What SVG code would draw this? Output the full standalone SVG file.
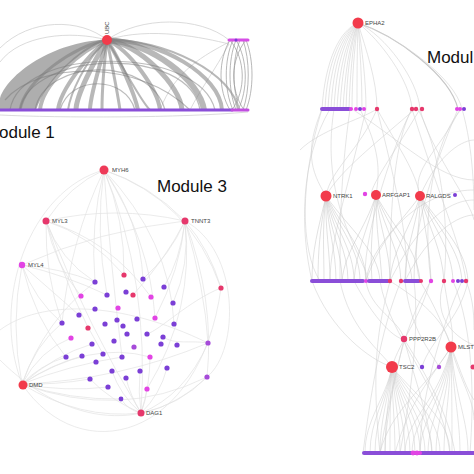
<svg xmlns="http://www.w3.org/2000/svg" width="474" height="474" viewBox="0 0 474 474">
<style>
.thick{fill:none;stroke:#7e7e7e;stroke-opacity:0.55;stroke-linecap:butt}
.lt{fill:none;stroke:#d2d2d2;stroke-width:0.8}
.m3{fill:none;stroke:#e3e3e3;stroke-width:0.7}
.m2{fill:none;stroke:#d4d4d4;stroke-width:0.6}
.m2d{fill:none;stroke:#c4c4c4;stroke-width:0.5}
.big{font-family:"Liberation Sans",Arial,sans-serif;font-size:17px;fill:#111}
.lbl{font-family:"Liberation Sans",Arial,sans-serif;font-size:6px;fill:#444}
.red{fill:#f23b4b}
.pr{fill:#e6386c}
.mg{fill:#e244e4}
.pu{fill:#7b3fd6}
.mx{fill:#a64bd9}
.bar{stroke:#8a4ed8;stroke-linecap:round;fill:none}
</style>
<rect width="474" height="474" fill="#ffffff"/>

<g id="connectors">
  <!-- Module 1 -->
  <path d="M107,40 C60,40 10,70 0,98 L0,110 L36,110 C46,80 80,50 107,40 Z" fill="#9a9a9a" fill-opacity="0.8"/>
  <path class="lt" d="M107,40 C80,18 30,18 0,48"/>
  <path class="lt" d="M107,40 C70,30 20,35 0,62"/>
  <path class="lt" d="M107,40 C140,16 200,16 229,40"/>
  <path class="lt" d="M107,40 C150,26 205,38 229,44"/>
  <path class="lt" d="M229,42 C205,55 175,70 160,110"/>
  <path class="lt" d="M229,44 C215,70 200,90 190,110"/>
  <path class="lt" d="M0,115 C60,118 180,118 248,112"/>
  <g class="thick">
    <path stroke-width="3" d="M107,40 C75,45 25,80 20,110"/>
    <path stroke-width="4" d="M107,40 C80,50 42,85 40,110"/>
    <path stroke-width="4" d="M107,40 C88,55 60,90 58,110"/>
    <path stroke-width="5" d="M107,40 C95,60 76,95 76,110"/>
    <path stroke-width="4" d="M107,40 C100,65 90,95 90,110"/>
    <path stroke-width="3" d="M107,40 C104,65 102,95 102,110"/>
    <path stroke-width="3" d="M107,40 C112,65 118,95 120,110"/>
    <path stroke-width="4" d="M107,40 C120,60 135,95 138,110"/>
    <path stroke-width="4" d="M107,40 C130,50 158,90 160,110"/>
    <path stroke-width="5" d="M107,40 C140,45 180,85 182,110"/>
    <path stroke-width="6" d="M107,40 C150,42 200,80 204,110"/>
    <path stroke-width="4" d="M107,40 C160,40 220,75 222,110"/>
    <path stroke-width="2" d="M107,40 C165,38 235,75 238,110"/>
    <path stroke-width="2" d="M107,40 C85,60 70,95 68,110"/>
    <path stroke-width="2" d="M107,40 C125,70 140,100 150,110"/>
  </g>
  <g fill="none" stroke="#7a7a7a" stroke-opacity="0.5" stroke-width="1.2">
    <path d="M20,110 C30,50 190,45 200,110"/>
    <path d="M35,110 C45,58 150,55 165,110"/>
    <path d="M10,110 C20,45 200,45 215,110"/>
    <path d="M60,110 C70,75 125,75 135,110"/>
    <path d="M5,100 C40,60 140,60 190,110"/>
  </g>
  <g fill="none" stroke="#9a9a9a" stroke-opacity="0.7" stroke-width="1">
    <path d="M230,40 C218,60 218,90 230,110"/>
    <path d="M233,40 C224,60 224,90 233,110"/>
    <path d="M236,40 C228,60 228,90 236,110"/>
    <path d="M246,40 C254,60 254,90 246,110"/>
    <path d="M243,40 C250,60 250,90 243,110"/>
    <path d="M240,40 C232,60 232,90 240,110"/>
    <path d="M230,40 C246,60 246,90 232,110"/>
    <path d="M246,40 C230,60 230,90 244,110"/>
    <path d="M236,40 C248,60 248,90 238,110"/>
  </g>

  <!-- Module 3 -->
  <g class="m3">
    <path d="M104,170 Q90,225 95,282"/><path d="M104,170 Q125,220 124,275"/>
    <path d="M104,170 Q140,220 143,279"/><path d="M104,170 Q95,230 107,295"/>
    <path d="M104,170 Q70,240 62,323"/><path d="M104,170 Q150,240 155,318"/>
    <path d="M104,170 Q170,240 174,324"/><path d="M104,170 Q150,280 141,413"/>
    <path d="M104,170 Q70,185 46,221"/><path d="M104,170 Q150,185 185,221"/>
    <path d="M104,170 Q190,200 221,288"/><path d="M104,170 Q110,260 122,357"/>
    <path d="M46,221 Q60,260 95,282"/><path d="M46,221 Q55,265 81,296"/>
    <path d="M46,221 Q90,235 124,275"/><path d="M46,221 Q45,275 62,323"/>
    <path d="M46,221 Q70,300 103,354"/><path d="M46,221 Q110,240 151,297"/>
    <path d="M46,221 Q115,205 185,221"/><path d="M46,221 Q90,330 141,413"/>
    <path d="M185,221 Q170,255 143,279"/><path d="M185,221 Q180,260 164,287"/>
    <path d="M185,221 Q190,265 173,303"/><path d="M185,221 Q165,260 133,295"/>
    <path d="M185,221 Q210,250 221,288"/><path d="M185,221 Q205,290 208,343"/>
    <path d="M185,221 Q180,270 155,318"/><path d="M185,221 Q100,230 22,265"/>
    <path d="M185,221 Q195,310 147,389"/><path d="M185,221 Q215,300 207,377"/>
    <path d="M22,265 Q35,300 62,323"/><path d="M22,265 Q45,285 79,315"/>
    <path d="M22,265 Q60,268 95,282"/><path d="M22,265 Q35,320 66,357"/>
    <path d="M22,265 Q10,325 22,384"/><path d="M22,265 Q65,275 107,295"/>
    <path d="M22,384 Q35,345 62,323"/><path d="M22,384 Q40,365 66,357"/>
    <path d="M22,384 Q50,365 82,356"/><path d="M22,384 Q55,355 92,344"/>
    <path d="M22,384 Q55,385 90,379"/><path d="M22,384 Q65,392 108,387"/>
    <path d="M22,384 Q70,400 121,399"/><path d="M22,384 Q80,420 141,413"/>
    <path d="M22,384 Q70,365 122,357"/><path d="M22,384 Q40,350 71,338"/>
    <path d="M22,384 Q120,420 207,377"/><path d="M22,384 Q45,320 95,282"/>
    <path d="M22,384 Q120,380 208,343"/><path d="M22,384 Q90,340 150,357"/>
    <path d="M141,413 Q128,410 121,399"/><path d="M141,413 Q146,400 147,389"/>
    <path d="M141,413 Q130,395 126,378"/><path d="M141,413 Q138,392 140,371"/>
    <path d="M141,413 Q160,395 167,368"/><path d="M141,413 Q180,405 207,377"/>
    <path d="M141,413 Q185,395 208,343"/><path d="M141,413 Q120,395 112,371"/>
    <path d="M141,413 Q150,385 150,357"/><path d="M141,413 Q110,400 90,379"/>
    <path d="M22,384 C-10,300 30,190 104,170"/>
    <path d="M22,384 C80,470 200,440 221,288"/>
    <path d="M185,221 C240,250 240,350 207,377"/>
    <path d="M0,330 C40,300 120,300 208,343"/>
    <path d="M0,360 C60,420 140,440 207,377"/>
    <path d="M221,288 C190,300 160,330 147,334"/>
    <path d="M208,343 C190,340 175,345 163,337"/>
  </g>

  <!-- Module 2 (right) -->
  <g class="m2">
    <path d="M358,23 C340,30 325,60 322,109"/><path d="M358,23 C341,32 327,62 325,109"/>
    <path d="M358,23 C342,34 330,64 328,109"/><path d="M358,23 C343,36 333,66 331,109"/>
    <path d="M358,23 C344,38 336,68 334,109"/><path d="M358,23 C346,40 339,70 337,109"/>
    <path d="M358,23 C347,42 342,72 340,109"/><path d="M358,23 C349,44 345,74 343,109"/>
    <path d="M358,23 C350,46 347,76 346,109"/><path d="M358,23 C352,48 350,78 349,109"/>
    <path d="M358,23 C354,50 352,80 352,109"/><path d="M358,23 C357,50 357,80 357,109"/>
    <path d="M358,23 C360,50 362,80 362,109"/><path d="M358,23 C362,50 366,80 366,109"/>
    <path d="M358,23 C366,50 377,80 377,109"/><path d="M358,23 C380,40 410,80 412,109"/>
    <path d="M358,23 C385,35 418,80 420,109"/>
    <path stroke="#c6c6c6" stroke-width="1.1" d="M358,23 C395,35 450,75 458,109"/>
    <path d="M358,23 C400,38 455,78 462,109"/>
    <path d="M322,109 C305,150 310,170 326,196"/><path d="M330,109 C300,160 300,230 312,281"/>
    <path d="M350,109 C340,180 340,230 340,281"/><path d="M360,109 C380,150 380,170 376,195"/>
    <path d="M377,109 C360,150 330,170 326,196"/><path d="M377,109 C400,150 415,170 420,196"/>
    <path d="M412,109 C390,150 360,250 366,281"/><path d="M415,109 C380,140 340,170 326,196"/>
    <path d="M418,109 C440,150 450,220 444,281"/><path d="M420,109 C430,150 470,200 474,220"/>
    <path d="M460,109 C440,150 410,170 420,196"/><path d="M462,109 C474,150 474,200 474,210"/>
    <path d="M412,109 C395,140 390,200 390,281"/><path d="M420,109 C390,160 360,200 376,195"/>
    <path d="M322,109 C300,180 300,250 320,281"/><path d="M334,109 C320,200 360,250 369,281"/>
    <path d="M366,109 C350,180 330,240 330,281"/><path d="M377,109 C400,200 410,250 405,281"/>
    <path d="M412,109 C440,200 460,240 466,281"/><path d="M458,109 C420,200 410,250 420,281"/>
    <path d="M462,109 C440,130 420,200 431,281"/><path d="M352,109 C400,140 440,180 474,180"/>
    <path d="M300,150 C320,130 360,120 377,109"/><path d="M420,196 C440,150 465,140 474,140"/>
    <path d="M390,281 C420,220 450,200 474,200"/><path d="M405,281 C430,230 460,215 474,215"/>
    <path d="M366,281 C390,210 440,190 474,190"/>
  </g>
  <g class="m2d">
    <path d="M326,196 C318,230 312,250 312,281"/><path d="M326,196 C320,230 318,250 318,281"/>
    <path d="M326,196 C322,230 324,250 324,281"/><path d="M326,196 C325,230 330,250 330,281"/>
    <path d="M326,196 C328,230 336,250 336,281"/><path d="M326,196 C330,230 342,250 342,281"/>
    <path d="M326,196 C333,230 348,250 348,281"/><path d="M326,196 C336,230 354,250 354,281"/>
    <path d="M326,196 C340,230 360,250 360,281"/><path d="M326,196 C344,230 366,250 366,281"/>
    <path d="M326,196 C350,230 378,250 380,281"/>
    <path d="M376,195 C365,230 345,250 342,281"/><path d="M376,195 C368,230 356,250 354,281"/>
    <path d="M376,195 C372,230 370,250 372,281"/><path d="M376,195 C376,230 380,250 382,281"/>
    <path d="M376,195 C380,230 390,250 390,281"/><path d="M376,195 C385,230 400,250 401,281"/>
    <path d="M376,195 C390,230 410,250 412,281"/><path d="M376,195 C395,230 418,250 420,281"/>
    <path d="M420,196 C410,230 392,250 390,281"/><path d="M420,196 C415,230 405,250 405,281"/>
    <path d="M420,196 C420,230 414,250 414,281"/><path d="M420,196 C425,230 430,250 431,281"/>
    <path d="M420,196 C430,230 442,250 444,281"/><path d="M420,196 C435,230 452,250 453,281"/>
    <path d="M420,196 C440,230 460,250 462,281"/><path d="M420,196 C445,230 466,250 468,281"/>
    <path d="M420,196 C395,230 370,250 366,281"/>
  </g>
  <g class="m2">
    <path d="M340,281 C350,330 380,350 392,367"/><path d="M366,281 C370,310 400,320 404,339"/>
    <path d="M390,281 C420,300 445,320 451,347"/><path d="M405,281 C410,330 430,350 439,367"/>
    <path d="M430,281 C420,320 400,340 392,367"/><path d="M444,281 C450,320 455,335 451,347"/>
    <path d="M468,281 C460,320 430,340 422,367"/><path d="M401,281 C380,330 370,400 363,453"/>
    <path d="M453,281 C474,330 474,400 470,453"/><path d="M312,281 C330,330 370,360 392,367"/>
    <path d="M414,281 C420,330 410,400 400,453"/><path d="M431,281 C400,330 390,400 380,453"/>
    <path d="M380,281 C390,340 440,380 450,453"/><path d="M420,281 C450,330 460,380 474,400"/>
    <path d="M462,281 C440,330 420,400 420,453"/><path d="M354,281 C380,330 400,340 404,339"/>
    <path d="M444,281 C430,320 460,340 474,345"/><path d="M390,281 C380,320 370,360 380,453"/>
    <path d="M466,281 C474,300 474,320 474,330"/><path d="M404,339 C395,380 385,420 385,453"/>
    <path d="M404,339 C415,380 430,420 432,453"/><path d="M404,339 C430,380 450,420 455,453"/>
  </g>
  <g fill="none" stroke="#cdcdcd" stroke-width="0.5">
    <path d="M392,367 C385,400 365,420 365,453"/><path d="M392,367 C386,400 370,420 370,453"/>
    <path d="M392,367 C387,400 375,420 375,453"/><path d="M392,367 C388,400 380,420 380,453"/>
    <path d="M392,367 C389,400 385,420 385,453"/><path d="M392,367 C390,400 390,420 390,453"/>
    <path d="M392,367 C392,400 395,420 395,453"/><path d="M392,367 C394,400 400,420 400,453"/>
    <path d="M392,367 C396,400 405,420 405,453"/><path d="M392,367 C398,400 410,420 410,453"/>
    <path d="M392,367 C400,400 415,420 415,453"/><path d="M392,367 C403,400 420,420 420,453"/>
    <path d="M392,367 C406,400 425,420 425,453"/><path d="M392,367 C410,400 432,420 432,453"/>
    <path d="M392,367 C415,400 440,420 440,453"/><path d="M392,367 C420,400 450,420 450,453"/>
    <path d="M451,347 C440,400 405,420 405,453"/><path d="M451,347 C442,400 412,420 412,453"/>
    <path d="M451,347 C444,400 420,420 420,453"/><path d="M451,347 C446,400 428,420 428,453"/>
    <path d="M451,347 C448,400 436,420 436,453"/><path d="M451,347 C450,400 444,420 444,453"/>
    <path d="M451,347 C452,400 452,420 452,453"/><path d="M451,347 C454,400 460,420 460,453"/>
    <path d="M451,347 C456,400 468,420 468,453"/><path d="M451,347 C460,380 474,400 474,420"/>
    <path d="M451,347 C430,380 410,400 395,453"/><path d="M451,347 C425,390 390,410 380,453"/>
  </g>
</g>

<!-- Module 1 nodes -->
<g id="m1-baseline"><path class="bar" stroke-width="3" d="M0,110 L232,110"/><path stroke="#c04ee0" stroke-width="3" stroke-linecap="round" d="M232,110 L248,110"/></g>
<g id="m1-group"><path stroke="#d64ee6" stroke-width="3" stroke-linecap="round" d="M229,40 L248,40"/><circle class="pu" cx="236" cy="40" r="1.5"/></g>
<g id="UBC"><circle class="red" cx="107" cy="40" r="5"/><text class="lbl" transform="translate(109,34) rotate(-90)">UBC</text></g>
<text class="big" x="-1" y="138">odule 1</text>

<!-- Module 3 nodes -->
<text class="big" x="157" y="192">Module 3</text>
<g id="MYH6"><circle class="pr" cx="104" cy="170" r="4.5" style="fill:#ee3a58"/><text class="lbl" x="112" y="172">MYH6</text></g>
<g id="MYL3"><circle class="pr" cx="46" cy="221" r="3.5"/><text class="lbl" x="52" y="223">MYL3</text></g>
<g id="TNNT3"><circle class="pr" cx="185" cy="221" r="3.5"/><text class="lbl" x="191" y="223">TNNT3</text></g>
<g id="MYL4"><circle class="mg" cx="22" cy="265" r="3.2"/><text class="lbl" x="28" y="267">MYL4</text></g>
<g id="DMD"><circle class="red" cx="23" cy="385" r="4.5"/><text class="lbl" x="29" y="387">DMD</text></g>
<g id="DAG1"><circle class="pr" cx="141" cy="413" r="3.5"/><text class="lbl" x="146" y="415">DAG1</text></g>
<g id="m3-dots">
  <circle class="pr" cx="124" cy="275" r="2.6"/><circle class="pu" cx="143" cy="279" r="2.6"/>
  <circle class="pu" cx="95" cy="282" r="2.6"/><circle class="pu" cx="164" cy="287" r="2.6"/>
  <circle class="pr" cx="221" cy="288" r="2.6"/><circle class="mg" cx="81" cy="296" r="2.6"/>
  <circle class="pu" cx="107" cy="295" r="2.6"/><circle class="pu" cx="126" cy="292" r="2.6"/>
  <circle class="pr" cx="133" cy="295" r="2.6"/><circle class="mg" cx="151" cy="297" r="2.6"/>
  <circle class="pu" cx="173" cy="303" r="2.6"/><circle class="pu" cx="95" cy="309" r="2.6"/>
  <circle class="mg" cx="118" cy="308" r="2.6"/><circle class="pu" cx="79" cy="315" r="2.6"/>
  <circle class="pu" cx="62" cy="323" r="2.6"/><circle class="pr" cx="88" cy="328" r="2.6"/>
  <circle class="pu" cx="105" cy="324" r="2.6"/><circle class="pu" cx="117" cy="320" r="2.6"/>
  <circle class="pu" cx="123" cy="326" r="2.6"/><circle class="pu" cx="137" cy="319" r="2.6"/>
  <circle class="mg" cx="155" cy="318" r="2.6"/><circle class="pu" cx="174" cy="324" r="2.6"/>
  <circle class="mg" cx="71" cy="338" r="2.6"/><circle class="pu" cx="92" cy="344" r="2.6"/>
  <circle class="pu" cx="114" cy="341" r="2.6"/><circle class="pu" cx="127" cy="334" r="2.6"/>
  <circle class="pu" cx="147" cy="334" r="2.6"/><circle class="pu" cx="163" cy="337" r="2.6"/>
  <circle class="pu" cx="161" cy="344" r="2.6"/><circle class="pu" cx="177" cy="345" r="2.6"/>
  <circle class="mx" cx="208" cy="343" r="2.6"/><circle class="pu" cx="66" cy="357" r="2.6"/>
  <circle class="pu" cx="82" cy="356" r="2.6"/><circle class="pu" cx="103" cy="354" r="2.6"/>
  <circle class="pu" cx="96" cy="362" r="2.6"/><circle class="pu" cx="122" cy="357" r="2.6"/>
  <circle class="mx" cx="134" cy="347" r="2.6"/><circle class="mg" cx="150" cy="357" r="2.6"/>
  <circle class="pu" cx="167" cy="368" r="2.6"/><circle class="pu" cx="112" cy="371" r="2.6"/>
  <circle class="pu" cx="140" cy="371" r="2.6"/><circle class="pu" cx="90" cy="379" r="2.6"/>
  <circle class="pu" cx="126" cy="378" r="2.6"/><circle class="mx" cx="207" cy="377" r="2.6"/>
  <circle class="pu" cx="108" cy="387" r="2.6"/><circle class="mg" cx="147" cy="389" r="2.6"/>
  <circle class="pu" cx="121" cy="399" r="2.4"/>
</g>

<!-- Module 2 (right) nodes -->
<text class="big" x="427" y="63">Modul</text>
<g id="EPHA2"><circle class="red" cx="358" cy="23" r="5.5"/><text class="lbl" x="365" y="25">EPHA2</text></g>
<g id="row1">
  <path class="bar" stroke-width="4" d="M322,109 L349,109"/>
  <circle class="mg" cx="351" cy="109" r="2"/>
  <circle class="mg" cx="356" cy="109" r="2"/><circle class="pu" cx="360" cy="109" r="2"/><circle class="mg" cx="364" cy="109" r="2"/>
  <circle class="pr" cx="377" cy="109" r="2.2"/>
  <circle class="pr" cx="412" cy="109" r="2.2"/><circle class="pr" cx="416" cy="109" r="2.2"/><circle class="pr" cx="422" cy="109" r="2.2"/>
  <circle class="mg" cx="457" cy="109" r="2"/><circle class="mg" cx="460" cy="109" r="2"/><circle class="pu" cx="464" cy="109" r="2"/>
</g>
<g id="NTRK1"><circle class="red" cx="326" cy="196" r="5.5"/><text class="lbl" x="333" y="198">NTRK1</text></g>
<circle class="mg" cx="365" cy="194" r="2.2"/>
<g id="ARFGAP1"><circle class="red" cx="376" cy="195" r="5"/><text class="lbl" x="382" y="197">ARFGAP1</text></g>
<g id="RALGDS"><circle class="red" cx="420" cy="196" r="5"/><text class="lbl" x="426" y="198">RALGDS</text></g>
<circle class="pu" cx="455" cy="195" r="2"/>
<g id="row2">
  <path class="bar" stroke-width="4" d="M312,281 L363,281"/>
  <circle class="mg" cx="366" cy="281" r="2"/>
  <path class="bar" stroke-width="4" d="M369,281 L388,281"/>
  <circle class="pr" cx="390" cy="281" r="2.2"/>
  <circle class="pr" cx="401" cy="281" r="2.2"/>
  <path class="bar" stroke-width="4" d="M405,281 L419,281"/>
  <circle class="pr" cx="421" cy="281" r="2"/>
  <circle class="mg" cx="431" cy="281" r="2.2"/>
  <circle class="pr" cx="444" cy="281" r="2.2"/>
  <circle class="mg" cx="453" cy="281" r="2"/><circle class="pu" cx="458" cy="281" r="2"/><circle class="pu" cx="462" cy="281" r="2"/><circle class="pr" cx="466" cy="281" r="2.2"/>
</g>
<g id="PPP2R2B"><circle class="pr" cx="404" cy="339" r="3.2"/><text class="lbl" x="409" y="341">PPP2R2B</text></g>
<g id="MLST8"><circle class="red" cx="451" cy="347" r="5.5"/><text class="lbl" x="458" y="349">MLST</text></g>
<g id="TSC2"><circle class="red" cx="392" cy="367" r="6"/><text class="lbl" x="399" y="369">TSC2</text></g>
<circle class="pu" cx="422" cy="367" r="2.2"/>
<circle class="mx" cx="439" cy="367" r="2.2"/>
<circle class="pr" cx="473" cy="367" r="2.5"/>
<g id="row3">
  <path class="bar" stroke-width="4" d="M364,453 L474,453"/>
  <circle class="mg" cx="413" cy="453" r="2.4"/><circle class="mg" cx="417" cy="453" r="2.4"/><circle class="mg" cx="420" cy="453" r="2"/>
</g>
</svg>
